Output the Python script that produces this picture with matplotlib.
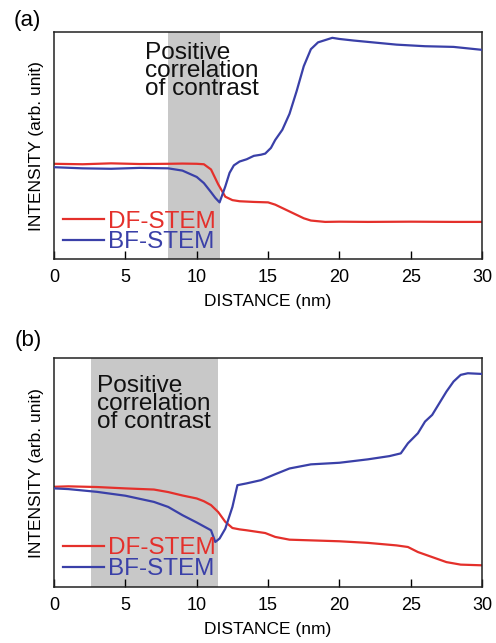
import numpy as np
import matplotlib.pyplot as plt
from matplotlib.lines import Line2D

plt.rcParams["font.family"] = ["Liberation Sans", "DejaVu Sans"]

# panel (a) profiles (arb. units, 0 = bottom of axes, 1 = top)
a_df_x = [0, 2, 4, 6, 8, 9, 10, 10.5, 11, 11.5, 12, 12.5, 13, 14, 15, 15.5, 16, 16.5, 17, 17.5, 18, 19, 20, 22, 25, 28, 30]
a_df_y = [0.42, 0.418, 0.422, 0.419, 0.42, 0.421, 0.42, 0.418, 0.395, 0.33, 0.275, 0.26, 0.255, 0.252, 0.25, 0.24, 0.225, 0.21, 0.195, 0.18, 0.17, 0.164, 0.165, 0.164, 0.165, 0.164, 0.164]
a_bf_x = [0, 2, 4, 6, 8, 9, 10, 10.5, 11, 11.3, 11.6, 12, 12.3, 12.6, 13, 13.5, 14, 14.5, 14.8, 15.2, 15.5, 16, 16.5, 17, 17.5, 18, 18.5, 19, 19.5, 20, 21, 22, 24, 26, 28, 30]
a_bf_y = [0.405, 0.4, 0.398, 0.402, 0.4, 0.39, 0.362, 0.335, 0.295, 0.27, 0.25, 0.32, 0.38, 0.413, 0.43, 0.44, 0.455, 0.46, 0.465, 0.49, 0.525, 0.57, 0.64, 0.74, 0.85, 0.925, 0.955, 0.965, 0.975, 0.97, 0.963, 0.957, 0.945, 0.938, 0.935, 0.922]

# panel (b) profiles
b_df_x = [0, 1, 3, 5, 7, 8, 9, 10, 10.5, 11, 11.5, 12, 12.5, 13, 13.5, 14.8, 15.5, 16.5, 18, 20, 22, 24, 24.8, 25.5, 26.5, 27.5, 28.5, 30]
b_df_y = [0.438, 0.44, 0.437, 0.431, 0.426, 0.415, 0.4, 0.387, 0.375, 0.358, 0.328, 0.285, 0.258, 0.252, 0.248, 0.236, 0.219, 0.207, 0.204, 0.2, 0.193, 0.182, 0.175, 0.153, 0.131, 0.109, 0.098, 0.095]
b_bf_x = [0, 1, 3, 5, 7, 8, 9, 10, 11, 11.3, 11.6, 12, 12.5, 12.85, 13.5, 14.5, 15.5, 16.5, 18, 20, 22, 23.5, 24.3, 24.8, 25.5, 26, 26.5, 27, 27.5, 28, 28.5, 29, 30]
b_bf_y = [0.431, 0.428, 0.416, 0.399, 0.372, 0.35, 0.314, 0.282, 0.248, 0.197, 0.212, 0.255, 0.35, 0.445, 0.453, 0.467, 0.493, 0.518, 0.536, 0.543, 0.558, 0.572, 0.584, 0.628, 0.672, 0.723, 0.752, 0.803, 0.854, 0.898, 0.927, 0.934, 0.931]

a_shade = (8.0, 11.65)
b_shade = (2.6, 11.5)

xticks = [0, 5, 10, 15, 20, 25, 30]
red = "#e4302b"
blue = "#3a40a8"

fig = plt.figure(figsize=(4.96, 6.43), dpi=100)
ax_a = fig.add_axes([0.109, 0.597, 0.863, 0.353])
ax_b = fig.add_axes([0.109, 0.087, 0.863, 0.356])


def draw_panel(ax, shade, df_x, df_y, bf_x, bf_y, text_x, text_y, leg_y):
    ax.axvspan(*shade, color="#c8c8c8", lw=0, zorder=0)
    ax.plot(df_x, df_y, color=red, lw=1.6, zorder=2)
    ax.plot(bf_x, bf_y, color=blue, lw=1.6, zorder=3)
    ax.set_xlim(0, 30)
    ax.set_ylim(0, 1)
    ax.set_xticks(xticks)
    ax.set_yticks([])
    ax.tick_params(axis="x", direction="in", length=6, width=1, labelsize=13, pad=7)
    for s in ax.spines.values():
        s.set_linewidth(1.1)
        s.set_color("#222222")
    ax.set_xlabel("DISTANCE (nm)", fontsize=12.5, labelpad=6)
    ax.set_ylabel("INTENSITY (arb. unit)", fontsize=12.5, labelpad=7)
    ax.text(text_x, text_y, "Positive\ncorrelation\nof contrast", transform=ax.get_xaxis_transform(),
            fontsize=17.6, va="top", ha="left", linespacing=0.76, color="#111111")
    handles = [Line2D([], [], color=red, lw=1.6), Line2D([], [], color=blue, lw=1.6)]
    ax.legend(handles, ["DF-STEM", "BF-STEM"], loc="lower left", bbox_to_anchor=(0.02, leg_y),
              frameon=False, fontsize=17.5, handlelength=1.7, handletextpad=0.15,
              labelspacing=-0.05, borderpad=0, borderaxespad=0, labelcolor="linecolor")


draw_panel(ax_a, a_shade, a_df_x, a_df_y, a_bf_x, a_bf_y, 6.4, 0.955, 0.025)
draw_panel(ax_b, b_shade, b_df_x, b_df_y, b_bf_x, b_bf_y, 3.0, 0.925, 0.03)

fig.text(0.028, 0.968, "(a)", fontsize=16, va="center", ha="left")
fig.text(0.030, 0.470, "(b)", fontsize=16, va="center", ha="left")

fig.savefig("out.png", dpi=100)
